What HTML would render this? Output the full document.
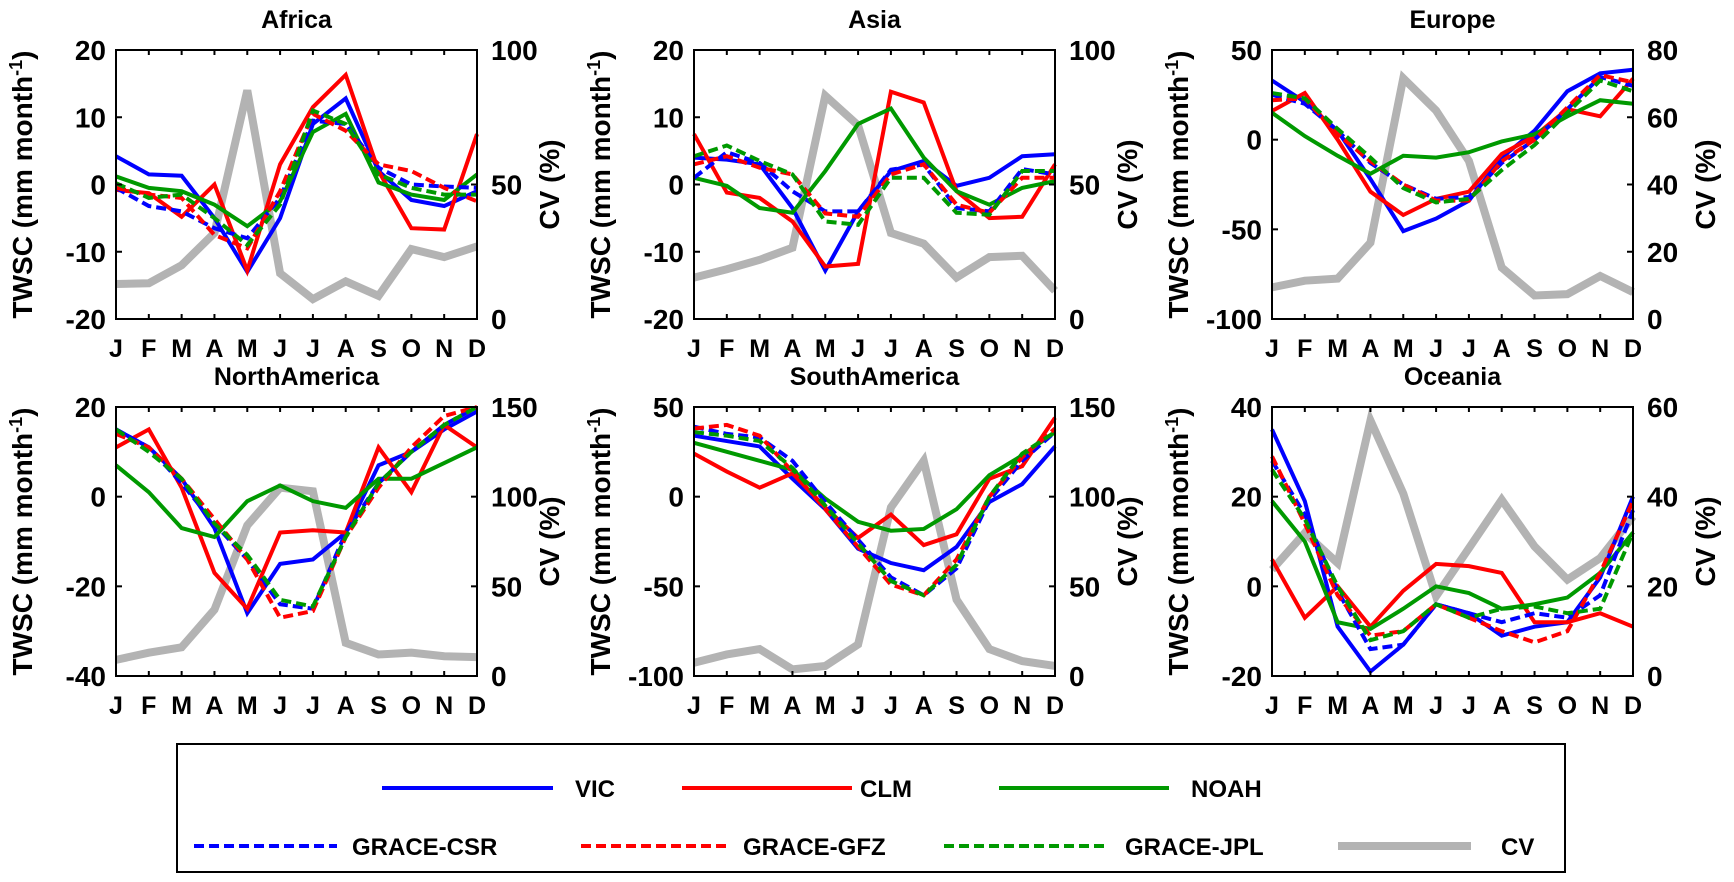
<!DOCTYPE html>
<html><head><meta charset="utf-8">
<style>
html,body{margin:0;padding:0;background:#fff;}
svg{display:block;font-family:"Liberation Sans",Arial,sans-serif;font-weight:bold;}
</style></head>
<body>
<svg id="fig" width="1734" height="882" viewBox="0 0 1734 882" xmlns="http://www.w3.org/2000/svg"></svg>
<script>
const months = ["J","F","M","A","M","J","J","A","S","O","N","D"];
const regions = ["Africa","Asia","Europe","NorthAmerica","SouthAmerica","Oceania"];
const yMin = [-20,-20,-100,-40,-100,-20];
const yMax = [20,20,50,20,50,40];
const yTicks = [[-20,-10,0,10,20],[-20,-10,0,10,20],[-100,-50,0,50],[-40,-20,0,20],[-100,-50,0,50],[-20,0,20,40]];
const cvMax = [100,100,80,150,150,60];
const cvTicks = [[0,50,100],[0,50,100],[0,20,40,60,80],[0,50,100,150],[0,50,100,150],[0,20,40,60]];

const VIC = [
 [4.2,1.5,1.3,-5,-13,-5,9,12.8,2,-2.3,-3.2,-1],
 [4,3.7,3,-3.5,-12.8,-4,2,3.5,-0.2,1,4.2,4.5],
 [33,21,5,-22,-51,-44,-34,-10,5,27,37,39],
 [15,11,4,-7,-26,-15,-14,-8,7,10,15,19],
 [34,31,28,10,-7,-29,-37,-41,-28,-3,7,28],
 [35,19,-9,-19,-13,-4,-6,-11,-9,-8,2,20]];
const CLM = [
 [-0.8,-1.3,-4.8,0,-12.8,3,11.5,16.3,2,-6.5,-6.7,7.5],
 [7.5,-1.2,-2,-5.5,-12.2,-11.8,13.8,12.2,-1,-5,-4.8,3],
 [16,26,0,-29,-42,-33,-29,-8,2,17,13,34],
 [11,15,2,-17,-25,-8,-7.5,-8,11,1,16,11],
 [24,14,5,13,-6,-23,-10,-27,-21,10,17,44],
 [6,-7,0,-9,-1,5,4.5,3,-8,-8,-6,-9]];
const NOAH = [
 [1.2,-0.5,-1,-3,-6.2,-2.5,7.8,10.5,0.3,-1.5,-2.3,1.5],
 [1,-0.2,-3.5,-4.2,2,9,11.3,4,-1,-3,-0.5,0.5],
 [15,2,-9,-19,-9,-10,-7,-1,3,13,22,20],
 [7,1,-7,-9,-1,2.5,-1,-2.5,4,4,7.5,11],
 [30,25,20,15,-1,-14,-19,-18,-7,12,23,36],
 [19,10,-8,-9.5,-5,0,-1.5,-5,-4,-2.5,3,12]];
const CSR = [
 [-0.5,-3.2,-4,-6.5,-8,-2,9.5,9,2.5,0,-0.3,-0.5],
 [1,4.8,3.2,-1,-4,-4,2.2,3,-3.5,-4,2.3,1.5],
 [25,20,5,-13,-25,-33,-32,-13,0,17,35,30],
 [15,11,3,-6,-14,-24,-25,-8,3,10,16,20],
 [39,35,33,20,-3,-24,-45,-55,-40,-2,20,36],
 [28,16,-1,-14,-13,-4,-6,-8,-6,-7,-2,17]];
const GFZ = [
 [-0.5,-1.5,-2,-7.5,-9.5,-1,10.5,8,3,2,-0.5,-2.5],
 [3,4.2,2.5,1.5,-4.3,-4.8,1.5,3,-3,-4.2,1,1],
 [22,23,3,-12,-25,-34,-34,-12,0,18,36,32],
 [14,11,4,-5,-14,-27,-25.5,-9,2,11,18,20],
 [38,40,34,14,-7,-28,-49,-55,-35,0,22,38],
 [29,14,-2,-11,-10,-4,-7,-10,-12.5,-10,3,19]];
const JPL = [
 [0.2,-2,-1.5,-5,-9,-3,11,9,1.5,-0.5,-1.5,-1.5],
 [4.2,5.8,3.5,1.5,-5.5,-6,1,1,-4.2,-4.5,2,2],
 [26,23,6,-10,-27,-35,-33,-17,-3,15,33,27],
 [15,10,4,-6,-13,-23,-24.5,-9,3,10,16,20],
 [36,34,31,16,-5,-26,-47,-55,-38,0,24,36],
 [26,15,0,-12,-10,-4,-7,-5,-4.5,-6,-5,12]];
const CV = [
 [13,13.3,20,32,85,17,7.4,14,8.6,26,23,27],
 [15.4,18.5,22,26.5,83,72,32,28,15.4,23,23.5,10.5],
 [9.4,11.4,12,22.7,71.6,62,47,15.3,7,7.4,12.8,8],
 [9,13,16,37,84,105,103,18.5,12,13,11,10.5],
 [7.4,12,15,3.7,5.6,17.6,94,120,42.6,15,8.3,5.6],
 [23.7,31.9,25.2,57,40.7,17.8,28.5,39.3,28.9,21.5,26.3,35.6]];

const NS="http://www.w3.org/2000/svg";
const svg=document.getElementById('fig');
function mk(tag,attrs,parent){const e=document.createElementNS(NS,tag);for(const k in attrs)e.setAttribute(k,attrs[k]);(parent||svg).appendChild(e);return e;}

const colX=[116,694,1272], rowY=[50,407], W=361, H=269;
const series=[
 {d:VIC,c:"#0000ff",dash:null,n:"vic"},
 {d:CLM,c:"#ff0000",dash:null,n:"clm"},
 {d:NOAH,c:"#009900",dash:null,n:"noah"},
 {d:CSR,c:"#0000ff",dash:"10 5",n:"grace-csr"},
 {d:GFZ,c:"#ff0000",dash:"10 5",n:"grace-gfz"},
 {d:JPL,c:"#009900",dash:"10 5",n:"grace-jpl"}];

regions.forEach((r,i)=>{
  const x0=colX[i%3], y0=rowY[Math.floor(i/3)];
  const g=mk('g',{});
  
  
  const xs=k=>x0+k*W/11;
  const ys=v=>y0+H-(v-yMin[i])/(yMax[i]-yMin[i])*H;
  const yc=v=>y0+H-v/cvMax[i]*H;
  const t=mk('text',{x:x0+W/2,y:y0-22,'text-anchor':'middle','font-size':25},g);t.textContent=r;
  
  // CV line first (behind)
  const cv=mk('polyline',{points:CV[i].map((v,k)=>xs(k)+','+yc(v)).join(' '),fill:'none',stroke:'#b3b3b3','stroke-width':8,'stroke-linejoin':'miter'},g);
  
  series.forEach(s=>{
    const p=mk('polyline',{points:s.d[i].map((v,k)=>xs(k)+','+ys(v)).join(' '),fill:'none',stroke:s.c,'stroke-width':4},g);
    if(s.dash)p.setAttribute('stroke-dasharray',s.dash);
    
  });
  const box=mk('rect',{x:x0,y:y0,width:W,height:H,fill:'none',stroke:'#000','stroke-width':2},g);
  
  months.forEach((m,k)=>{
    mk('line',{x1:xs(k),x2:xs(k),y1:y0,y2:y0+5,stroke:'#000','stroke-width':2},g);
    mk('line',{x1:xs(k),x2:xs(k),y1:y0+H,y2:y0+H-5,stroke:'#000','stroke-width':2},g);
    const tx=mk('text',{x:xs(k),y:y0+H+38,'text-anchor':'middle','font-size':25},g);tx.textContent=m;
    
  });
  yTicks[i].forEach(v=>{
    mk('line',{x1:x0,x2:x0+6,y1:ys(v),y2:ys(v),stroke:'#000','stroke-width':2},g);
    const tx=mk('text',{x:x0-10,y:ys(v)+10,'text-anchor':'end','font-size':28},g);tx.textContent=v;
    
  });
  cvTicks[i].forEach(v=>{
    mk('line',{x1:x0+W,x2:x0+W-6,y1:yc(v),y2:yc(v),stroke:'#000','stroke-width':2},g);
    const tx=mk('text',{x:x0+W+14,y:yc(v)+10,'font-size':28},g);tx.textContent=v;
    
  });
  const yl=mk('text',{transform:`translate(${x0-84},${y0+H/2}) rotate(-90)`,'text-anchor':'middle','font-size':28},g);
  yl.innerHTML='TWSC (mm month<tspan dy="-10" font-size="18">-1</tspan><tspan dy="10">)</tspan>';
  
  const cl=mk('text',{transform:`translate(${x0+W+82},${y0+H/2}) rotate(-90)`,'text-anchor':'middle','font-size':28},g);
  cl.textContent='CV (%)';
  
});

// Legend
const lg=mk('g',{});

mk('rect',{x:177,y:744,width:1388,height:128,fill:'#fff',stroke:'#000','stroke-width':2},lg);
const leg=[
 {x1:382,x2:553,tx:575,y:788,c:"#0000ff",d:null,w:4,l:"VIC"},
 {x1:682,x2:852,tx:860,y:788,c:"#ff0000",d:null,w:4,l:"CLM"},
 {x1:999,x2:1169,tx:1191,y:788,c:"#009900",d:null,w:4,l:"NOAH"},
 {x1:194,x2:337,tx:352,y:846,c:"#0000ff",d:"10 5",w:4,l:"GRACE-CSR"},
 {x1:581,x2:730,tx:743,y:846,c:"#ff0000",d:"10 5",w:4,l:"GRACE-GFZ"},
 {x1:944,x2:1106,tx:1125,y:846,c:"#009900",d:"10 5",w:4,l:"GRACE-JPL"},
 {x1:1338,x2:1471,tx:1501,y:846,c:"#b3b3b3",d:null,w:8,l:"CV"}];
leg.forEach(e=>{
  const g=mk('g',{},lg);
  
  const ln=mk('line',{x1:e.x1,x2:e.x2,y1:e.y,y2:e.y,stroke:e.c,'stroke-width':e.w},g);
  if(e.d)ln.setAttribute('stroke-dasharray',e.d);
  const t=mk('text',{x:e.tx,y:e.y+9,'font-size':24},g);t.textContent=e.l;
});
</script>
</body></html>
